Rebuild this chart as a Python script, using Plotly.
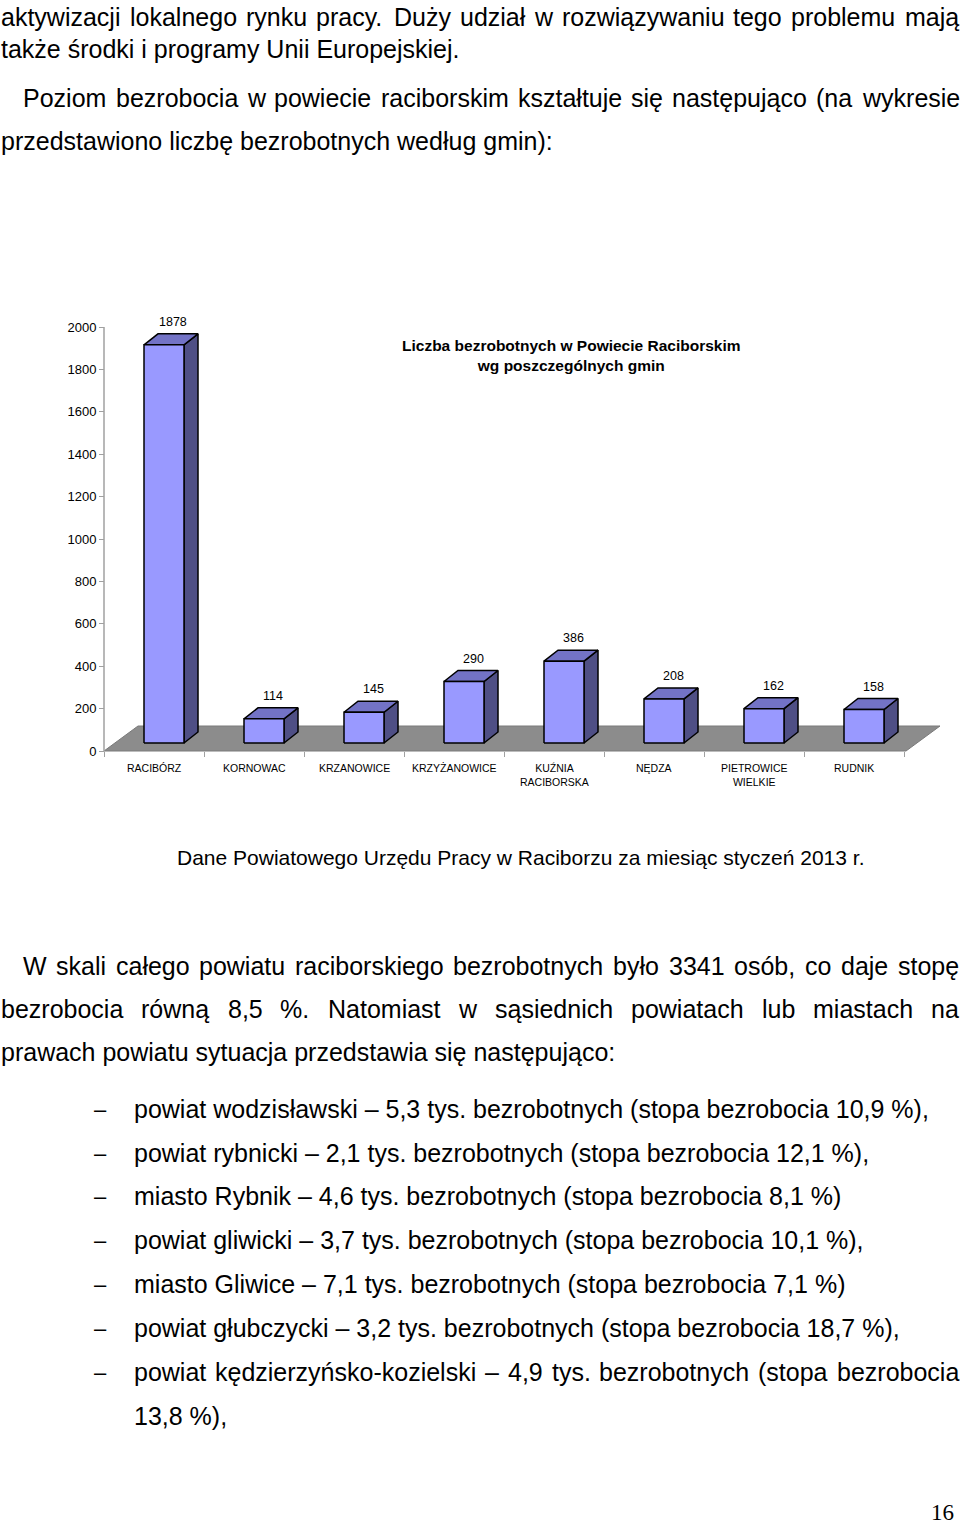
import plotly.graph_objects as go

# ---------------- data ----------------
categories = ["RACIBÓRZ", "KORNOWAC", "KRZANOWICE", "KRZYŻANOWICE",
              "KUŹNIA<br>RACIBORSKA", "NĘDZA", "PIETROWICE<br>WIELKIE", "RUDNIK"]
values = [1878, 114, 145, 290, 386, 208, 162, 158]
y_ticks = [0, 200, 400, 600, 800, 1000, 1200, 1400, 1600, 1800, 2000]
chart_title = "Liczba bezrobotnych w Powiecie Raciborskim<br>wg poszczególnych gmin"

# page text: (text, left px, justified?)
top_lines = [
    ("aktywizacji lokalnego rynku pracy. Duży udział w rozwiązywaniu tego problemu mają", 0, True),
    ("także środki i programy Unii Europejskiej.", 0, False),
    ("Poziom bezrobocia w powiecie raciborskim kształtuje się następująco (na wykresie", 22, True),
    ("przedstawiono liczbę bezrobotnych według gmin):", 0, False),
]
source_line = "Dane Powiatowego Urzędu Pracy w Raciborzu za miesiąc styczeń 2013 r."
para_lines = [
    ("W skali całego powiatu raciborskiego bezrobotnych było 3341 osób, co daje stopę", 22, True),
    ("bezrobocia równą 8,5 %. Natomiast w sąsiednich powiatach lub miastach na", 0, True),
    ("prawach powiatu sytuacja przedstawia się następująco:", 0, False),
]
list_items = [
    ("powiat wodzisławski – 5,3 tys. bezrobotnych (stopa bezrobocia 10,9 %),", False),
    ("powiat rybnicki – 2,1 tys. bezrobotnych (stopa bezrobocia 12,1 %),", False),
    ("miasto Rybnik – 4,6 tys. bezrobotnych (stopa bezrobocia 8,1 %)", False),
    ("powiat gliwicki – 3,7 tys. bezrobotnych (stopa bezrobocia 10,1 %),", False),
    ("miasto Gliwice – 7,1 tys. bezrobotnych (stopa bezrobocia 7,1 %)", False),
    ("powiat głubczycki – 3,2 tys. bezrobotnych (stopa bezrobocia 18,7 %),", False),
    ("powiat kędzierzyńsko-kozielski – 4,9 tys. bezrobotnych (stopa bezrobocia", True),
]
list_continuation = "13,8 %),"
page_number = "16"

# ---------------- layout constants ----------------
W, H = 960, 1527
FONT = "Liberation Sans, Arial, sans-serif"
TXT = 25
RIGHT_EDGE = 958
X0_PX, Y0_PX = 104, 751          # pixel position of axis origin
PX_PER_CAT = 100.0
PX_PER_UNIT = 0.212
X_MIN, X_MAX = -0.3, 8.5
Y_MIN, Y_MAX = -150, 2150

dom_x = [(X0_PX + X_MIN * PX_PER_CAT) / W, (X0_PX + X_MAX * PX_PER_CAT) / W]
dom_y = [1 - (Y0_PX - Y_MIN * PX_PER_UNIT) / H, 1 - (Y0_PX - Y_MAX * PX_PER_UNIT) / H]

# 3D projection in data units
DX = 0.14
DY = 11 / PX_PER_UNIT
LIFT = 8 / PX_PER_UNIT
BAR_L, BAR_W = 0.40, 0.40
FLOOR_DX, FLOOR_DY = 0.34, 25 / PX_PER_UNIT

FRONT, TOP, SIDE = "#9999FF", "#7373C6", "#4F4F85"

# Arial (Liberation Sans) advance widths per 1000 em, for justification
_w = {}
for ch, wd in zip("abcdefghijklmnopqrstuvwxyz",
                  [556, 556, 500, 556, 556, 278, 556, 556, 222, 222, 500, 222, 833,
                   556, 556, 556, 556, 333, 500, 278, 556, 500, 722, 500, 500, 500]):
    _w[ch] = wd
for ch, wd in zip("ABCDEFGHIJKLMNOPQRSTUVWXYZ",
                  [667, 667, 722, 722, 667, 611, 778, 722, 278, 500, 667, 556, 833,
                   722, 778, 667, 778, 722, 667, 611, 722, 667, 944, 667, 667, 611]):
    _w[ch] = wd
for ch in "0123456789":
    _w[ch] = 556
_w.update({" ": 278, ".": 278, ",": 278, ":": 278, "(": 333, ")": 333, "%": 889,
           "–": 556, "-": 333, "ż": 500, "ś": 500, "ł": 222, "ą": 556, "ę": 556,
           "ó": 556, "ń": 556, "ź": 500, "ć": 500, "Ż": 611, "Ś": 667})


def text_width(s, size):
    return sum(_w.get(c, 556) for c in s) * size / 1000.0


fig = go.Figure()
n = len(categories)

fig.add_trace(go.Scatter(
    x=[0, n + 0.02, n + 0.02 + FLOOR_DX, FLOOR_DX, 0],
    y=[0, 0, FLOOR_DY, FLOOR_DY, 0],
    fill="toself", fillcolor="#8C8C8C", mode="lines",
    line=dict(color="#7A7A7A", width=1), hoverinfo="skip", showlegend=False))

fig.add_trace(go.Scatter(x=[0, 0], y=[0, y_ticks[-1]], mode="lines",
                         line=dict(color="#A0A0A0", width=1.5),
                         hoverinfo="skip", showlegend=False, cliponaxis=False))

for i, v in enumerate(values):
    xl = i + BAR_L
    xr = xl + BAR_W
    yb = LIFT
    yt = LIFT + v
    fig.add_trace(go.Scatter(
        x=[xr, xr + DX, xr + DX, xr, xr], y=[yb, yb + DY, yt + DY, yt, yb],
        fill="toself", fillcolor=SIDE, mode="lines",
        line=dict(color="black", width=1.5), hoverinfo="skip", showlegend=False))
    fig.add_trace(go.Scatter(
        x=[xl, xr, xr + DX, xl + DX, xl], y=[yt, yt, yt + DY, yt + DY, yt],
        fill="toself", fillcolor=TOP, mode="lines",
        line=dict(color="black", width=1.5), hoverinfo="skip", showlegend=False))
    fig.add_trace(go.Scatter(
        x=[xl, xr, xr, xl, xl], y=[yb, yb, yt, yt, yb],
        fill="toself", fillcolor=FRONT, mode="lines",
        line=dict(color="black", width=1.5), hoverinfo="skip", showlegend=False))

annotations = []
for i, v in enumerate(values):
    annotations.append(dict(
        x=i + 0.69, y=LIFT + v + DY, xref="x", yref="y",
        text=str(v), showarrow=False, yanchor="bottom", yshift=3,
        font=dict(family=FONT, size=12.5, color="black")))
for i, c in enumerate(categories):
    annotations.append(dict(
        x=i + 0.5, y=0, xref="x", yref="y", text=c, showarrow=False,
        yanchor="top", yshift=-9,
        font=dict(family=FONT, size=10.5, color="black")))

annotations.append(dict(x=571 / W, y=1 - 355 / H, xref="paper", yref="paper",
                        text="<b>" + chart_title + "</b>", showarrow=False,
                        xanchor="center", yanchor="middle",
                        font=dict(family=FONT, size=15.5, color="black")))


def page_text(txt, px_x, px_y, size=TXT, anchor="left", family=FONT, yanchor="middle"):
    annotations.append(dict(x=px_x / W, y=1 - px_y / H, xref="paper", yref="paper",
                            text=txt, showarrow=False, xanchor=anchor, yanchor=yanchor,
                            borderpad=0,
                            font=dict(family=family, size=size, color="black")))


def line(txt, left, px_y, justify, size=TXT):
    if not justify:
        page_text(txt, left, px_y, size)
        return
    words = txt.split(" ")
    widths = [text_width(w_, size) for w_ in words]
    gap = (RIGHT_EDGE - left - sum(widths)) / (len(words) - 1)
    x = left
    for w_, wd in zip(words, widths):
        page_text(w_, x, px_y, size)
        x += wd + gap


top_y = [17, 49, 98, 141]
for (t, left, j), yy in zip(top_lines, top_y):
    line(t, left, yy, j)

page_text(source_line, 520, 857, size=21, anchor="center")

para_y = [966, 1009, 1052]
for (t, left, j), yy in zip(para_lines, para_y):
    line(t, left, yy, j)

list_y = [1109, 1153, 1196, 1240, 1284, 1328, 1372]
for (t, j), yy in zip(list_items, list_y):
    page_text("–", 93, yy, size=22)
    line(t, 133, yy, j)
page_text(list_continuation, 133, 1416)

page_text(page_number, 955, 1526, size=23, anchor="right", yanchor="bottom",
          family="Liberation Serif, Times New Roman, serif")

fig.update_layout(
    width=W, height=H, margin=dict(l=0, r=0, t=0, b=0),
    paper_bgcolor="white", plot_bgcolor="white",
    showlegend=False, annotations=annotations,
    xaxis=dict(domain=dom_x, range=[X_MIN, X_MAX], anchor="free",
               position=1 - Y0_PX / H,
               tickvals=list(range(n + 1)), ticks="outside", ticklen=5,
               tickcolor="#A0A0A0", tickwidth=1, showticklabels=False,
               showgrid=False, zeroline=False, showline=False, fixedrange=True),
    yaxis=dict(domain=dom_y, range=[Y_MIN, Y_MAX], anchor="free",
               position=X0_PX / W,
               tickvals=y_ticks, ticktext=[str(t) for t in y_ticks],
               ticks="outside", ticklen=5, tickcolor="#A0A0A0", tickwidth=1,
               tickfont=dict(family=FONT, size=13, color="black"),
               showgrid=False, zeroline=False, showline=False, fixedrange=True),
)

fig.write_html("out.html")
